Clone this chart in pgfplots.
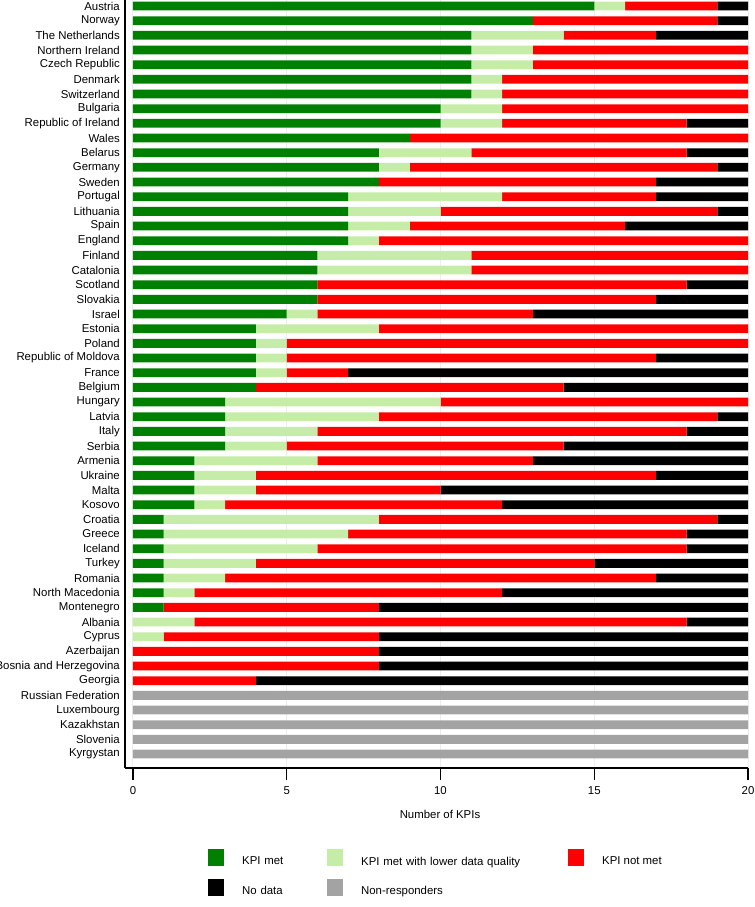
\documentclass[border=0pt]{standalone}
\usepackage{fontspec}
\setmainfont{Liberation Sans}
\usepackage{pgfplots}
\usepackage{pgfplotstable}
\pgfplotsset{compat=1.18}
\definecolor{kmet}{RGB}{0,128,0}
\definecolor{klow}{RGB}{198,237,168}
\definecolor{knot}{RGB}{255,0,0}
\definecolor{knod}{RGB}{0,0,0}
\definecolor{knr}{RGB}{163,163,163}
\pgfplotsset{sqlegend/.style={legend image code/.code={\fill[##1,draw=none] (0bp,-4.4bp) rectangle (16bp,12.6bp);}}}
\newcommand{\lf}{\fontsize{11.4bp}{13bp}\selectfont}
\pgfplotstableread[col sep=comma]{
y,met,low,notmet,nodata,nonresp
51,15,1,3,1,0
50,13,0,6,1,0
49,11,3,3,3,0
48,11,2,7,0,0
47,11,2,7,0,0
46,11,1,8,0,0
45,11,1,8,0,0
44,10,2,8,0,0
43,10,2,6,2,0
42,9,0,11,0,0
41,8,3,7,2,0
40,8,1,10,1,0
39,8,0,9,3,0
38,7,5,5,3,0
37,7,3,9,1,0
36,7,2,7,4,0
35,7,1,12,0,0
34,6,5,9,0,0
33,6,5,9,0,0
32,6,0,12,2,0
31,6,0,11,3,0
30,5,1,7,7,0
29,4,4,12,0,0
28,4,1,15,0,0
27,4,1,12,3,0
26,4,1,2,13,0
25,4,0,10,6,0
24,3,7,10,0,0
23,3,5,11,1,0
22,3,3,12,2,0
21,3,2,9,6,0
20,2,4,7,7,0
19,2,2,13,3,0
18,2,2,6,10,0
17,2,1,9,8,0
16,1,7,11,1,0
15,1,6,11,2,0
14,1,5,12,2,0
13,1,3,11,5,0
12,1,2,14,3,0
11,1,1,10,8,0
10,1,0,7,12,0
9,0,2,16,2,0
8,0,1,7,12,0
7,0,0,8,12,0
6,0,0,8,12,0
5,0,0,4,16,0
4,0,0,0,0,20
3,0,0,0,0,20
2,0,0,0,0,20
1,0,0,0,0,20
0,0,0,0,0,20
}\data
\begin{document}
\begin{tikzpicture}
\begin{axis}[
  at={(125bp,139bp)}, anchor=south west,
  scale only axis, width=623bp, height=768bp,
  clip=false,
  xbar stacked, bar width=0.6,
  xmin=-0.26, xmax=20, ymin=-0.95, ymax=51.41,
  axis x line*=bottom, axis y line*=left,
  axis line style={line width=1.1bp,-},
  xtick={0,5,10,15,20},
  ytick={0,1,...,51},
  yticklabels={Kyrgystan,Slovenia,Kazakhstan,Luxembourg,Russian Federation,Georgia,Bosnia and Herzegovina,Azerbaijan,Cyprus,Albania,Montenegro,North Macedonia,Romania,Turkey,Iceland,Greece,Croatia,Kosovo,Malta,Ukraine,Armenia,Serbia,Italy,Latvia,Hungary,Belgium,France,Republic of Moldova,Poland,Estonia,Israel,Slovakia,Scotland,Catalonia,Finland,England,Spain,Lithuania,Portugal,Sweden,Germany,Belarus,Wales,Republic of Ireland,Bulgaria,Switzerland,Denmark,Czech Republic,Northern Ireland,The Netherlands,Norway,Austria},
  tick align=outside, major tick length=12bp,
  xtick style={black, line width=1.1bp},
  ytick style={draw=none},
  xmajorgrids, major grid style={black!7, line width=1bp},
  /pgf/number format/assume math mode=true,
  tick label style={font=\lf, inner sep=0pt},
  xticklabel shift=6bp,
  yticklabel shift=-7bp,
  legend columns=3,
  legend cell align=left,
  legend style={at={(axis description cs:0.1332,-0.1055)}, anchor=north west, draw=none, fill=none,
    inner sep=0pt, row sep=12bp, column sep=0pt, font=\lf, nodes={inner sep=0pt},
    /tikz/every odd column/.append style={column sep=18bp},
    /tikz/column 2/.style={text width=85bp, align=left},
    /tikz/column 4/.style={text width=207bp, align=left}},
]
\addplot[fill=kmet, draw=none, sqlegend] table[x=met, y=y] {\data};
\addplot[fill=klow, draw=none, sqlegend] table[x=low, y=y] {\data};
\addplot[fill=knot, draw=none, sqlegend] table[x=notmet, y=y] {\data};
\addplot[fill=knod, draw=none, sqlegend] table[x=nodata, y=y] {\data};
\addplot[fill=knr, draw=none, sqlegend] table[x=nonresp, y=y] {\data};
\legend{KPI met, KPI met with lower data quality, KPI not met, No data, Non{-}responders}
\node[font=\lf, inner sep=0pt, anchor=center] at (axis description cs:0.5056,-0.0599) {Number of KPIs};
\end{axis}
\pgfresetboundingbox
\path[use as bounding box] (0,0) rectangle (755bp,907bp);
\end{tikzpicture}
\end{document}
